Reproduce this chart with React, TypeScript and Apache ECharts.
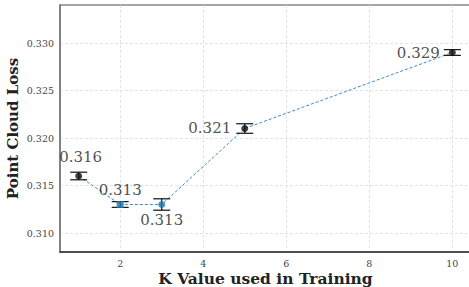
import React, { useEffect, useRef } from "react";
import * as echarts from "echarts";

const kValues = [1, 2, 3, 5, 10];
const lossValues = [0.316, 0.313, 0.313, 0.321, 0.329];
const errValues = [0.0004, 0.0003, 0.0006, 0.0005, 0.0003];
const markerKinds = ["circle", "rect", "circle", "circle", "circle"];
const markerColors = ["#111111", "#1f77b4", "#1f77b4", "#111111", "#111111"];
const labelOffsets: [number, number][] = [[2, -19], [0, -15], [0, 15], [-35, -1], [-34, 0]];
const xTicks = [2, 4, 6, 8, 10];
const yTicks = [0.31, 0.315, 0.32, 0.325, 0.33];

const SERIF = "DejaVu Serif";

export default function App() {
  const ref = useRef<HTMLDivElement>(null);
  useEffect(() => {
    if (!ref.current) return;
    const chart = echarts.init(ref.current, undefined, { renderer: "svg" });
    const lineData = kValues.map((k, i) => [k, lossValues[i]]);
    const errData = kValues.map((k, i) => [k, lossValues[i], errValues[i]]);
    const pointData = kValues.map((k, i) => ({
      value: [k, lossValues[i]],
      symbol: markerKinds[i],
      itemStyle: { color: markerColors[i] },
      label: {
        show: true,
        formatter: lossValues[i].toFixed(3),
        position: "inside",
        offset: labelOffsets[i],
      },
    }));
    const gridLine = { show: true, lineStyle: { color: "#dcdcdc", type: [3, 2], width: 0.8 } };
    chart.setOption({
      animation: false,
      grid: {
        left: 60,
        top: 5,
        width: 411,
        height: 247,
        containLabel: false,
        outerBoundsMode: "none",
        show: true,
        borderColor: "#888",
        borderWidth: 1.5,
      },
      xAxis: {
        type: "value",
        min: 0.55,
        max: 10.45,
        name: "K Value used in Training",
        nameLocation: "middle",
        nameGap: 26,
        nameMoveOverlap: false,
        nameTextStyle: {
          fontFamily: SERIF,
          fontWeight: "bold",
          fontSize: 15.5,
          color: "#222",
          verticalAlign: "middle",
        },
        axisLine: { show: true, onZero: false, lineStyle: { color: "#333", width: 1.5 } },
        axisTick: { show: false, customValues: xTicks },
        axisLabel: { customValues: xTicks, fontFamily: SERIF, fontSize: 9.5, color: "#444", margin: 6 },
        splitLine: gridLine,
      },
      yAxis: {
        type: "value",
        min: 0.308,
        max: 0.334,
        name: "Point Cloud Loss",
        nameLocation: "middle",
        nameGap: 40,
        nameMoveOverlap: false,
        nameTextStyle: { fontFamily: SERIF, fontWeight: "bold", fontSize: 15, color: "#222" },
        axisLine: { show: true, onZero: false, lineStyle: { color: "#777", width: 1.5 } },
        axisTick: { show: false, customValues: yTicks },
        axisLabel: {
          customValues: yTicks,
          fontFamily: SERIF,
          fontSize: 9.5,
          color: "#444",
          margin: 6,
          formatter: (v: number) => v.toFixed(3),
        },
        splitLine: gridLine,
      },
      series: [
        {
          type: "line",
          data: lineData,
          symbol: "none",
          lineStyle: { color: "#3a8bc8", width: 1, type: [3, 2] },
          z: 2,
        },
        {
          type: "custom",
          data: errData,
          z: 3,
          renderItem: (params: any, api: any) => {
            const x = api.value(0);
            const y = api.value(1);
            const e = api.value(2);
            const top = api.coord([x, y + e]);
            const bot = api.coord([x, y - e]);
            const cw = 8.5;
            const style = { stroke: "#111", lineWidth: 1.2 };
            return {
              type: "group",
              children: [
                { type: "line", shape: { x1: top[0], y1: top[1], x2: bot[0], y2: bot[1] }, style },
                { type: "line", shape: { x1: top[0] - cw, y1: top[1], x2: top[0] + cw, y2: top[1] }, style },
                { type: "line", shape: { x1: bot[0] - cw, y1: bot[1], x2: bot[0] + cw, y2: bot[1] }, style },
              ],
            };
          },
        },
        {
          type: "scatter",
          data: pointData,
          symbolSize: 7,
          z: 4,
          label: { fontFamily: SERIF, fontSize: 15, color: "#222" },
        },
      ],
    });
    return () => chart.dispose();
  }, []);
  return (
    <div
      ref={ref}
      style={{ position: "fixed", left: 0, top: 0, width: 469, height: 287, background: "#fff" }}
    />
  );
}
